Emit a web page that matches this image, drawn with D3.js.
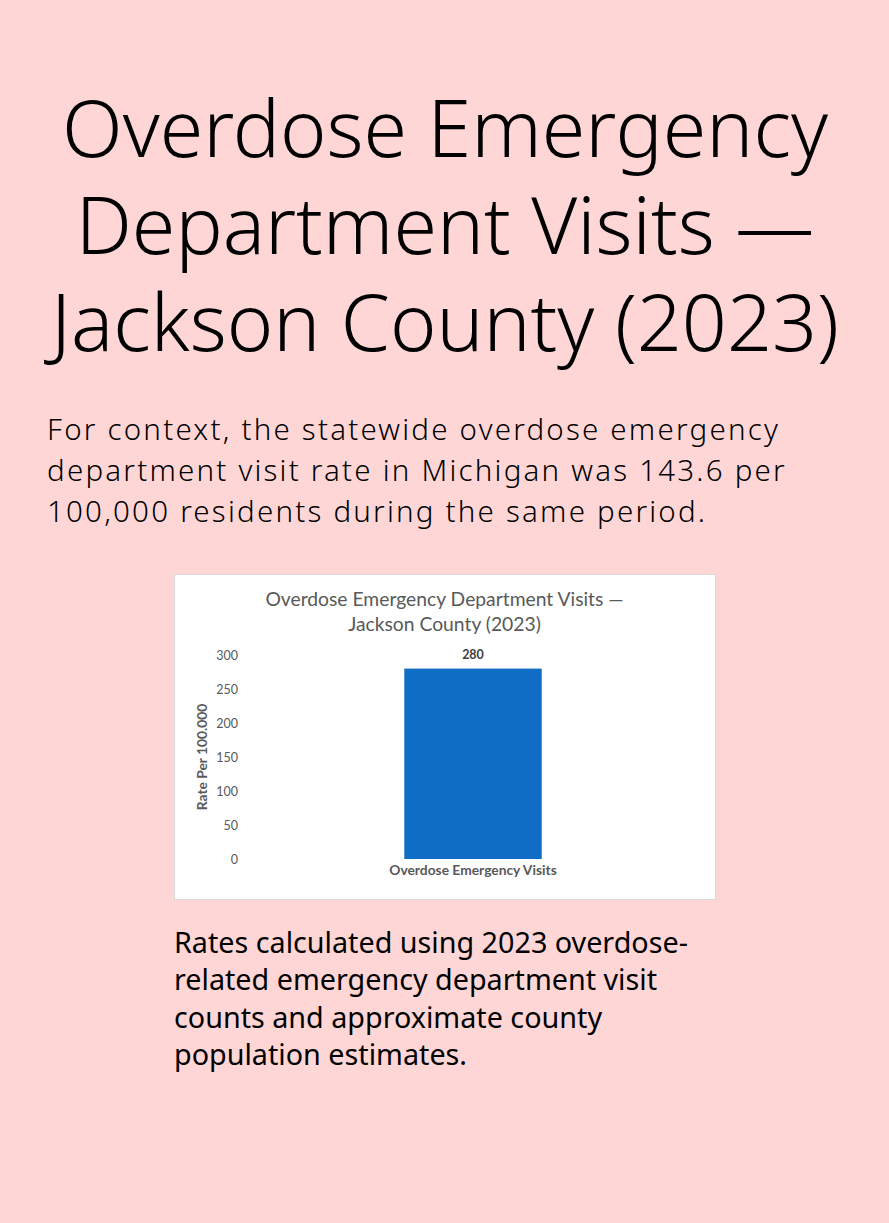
<!DOCTYPE html>
<html lang="en">
<head>
  <meta charset="UTF-8">
  <title>Overdose Emergency Department Visits — Jackson County (2023)</title>
  <script src="https://cdnjs.cloudflare.com/ajax/libs/d3/7.8.5/d3.min.js"></script>
  <style>
    body { margin: 0; background: #ffd6d6; }
    svg { display: block; }
    .big { font-family: "Noto Sans", sans-serif; font-weight: 300; fill: #000; }
    .note { font-family: "Noto Sans", sans-serif; font-weight: 400; fill: #000; }
    .chart text { font-family: Lato, "Open Sans", sans-serif; }
  </style>
</head>
<body>
  <svg width="889" height="1223"></svg>
  <script>
    // data
    var categories = ['Overdose Emergency Visits']
    var values = [280]
    var yTicks = [0, 50, 100, 150, 200, 250, 300]

    var titleLines = ['Overdose Emergency', 'Department Visits —', 'Jackson County (2023)']
    var introLines = [
      'For context, the statewide overdose emergency',
      'department visit rate in Michigan was 143.6 per',
      '100,000 residents during the same period.'
    ]
    var chartTitleLines = ['Overdose Emergency Department Visits —', 'Jackson County (2023)']
    var yLabel = 'Rate Per 100.000'
    var noteLines = [
      'Rates calculated using 2023 overdose-',
      'related emergency department visit',
      'counts and approximate county',
      'population estimates.'
    ]

    var svg = d3.select('svg')

    svg.append('rect').attr('width', 889).attr('height', 1223).attr('fill', '#ffd6d6')

    // scale a block's font so its first line hits a width
    function fitBlock(sel, targetWidth, startSize) {
      sel.style('font-size', startSize + 'px')
      var w = sel.filter((d, i) => i === 0).node().getComputedTextLength()
      var size = startSize * targetWidth / w
      sel.style('font-size', size + 'px')
      return size
    }

    // keep the size, make up the rest of the width with tracking
    function trackBlock(sel, targetWidth, size) {
      sel.style('font-size', size + 'px').style('letter-spacing', '0px')
      var first = sel.filter((d, i) => i === 0)
      var w = first.node().getComputedTextLength()
      sel.style('letter-spacing', ((targetWidth - w) / first.text().length) + 'px')
    }

    // big heading
    var title = svg.selectAll('.big')
      .data(titleLines).enter()
      .append('text')
      .attr('class', 'big')
      .attr('x', 445)
      .attr('y', (d, i) => 157 + i * 97)
      .attr('text-anchor', 'middle')
      .text(d => d)
    fitBlock(title, 766, 70)

    // intro paragraph
    var intro = svg.selectAll('.intro')
      .data(introLines).enter()
      .append('text')
      .attr('class', 'big intro')
      .attr('x', 47)
      .attr('y', (d, i) => 440 + i * 41)
      .text(d => d)
    trackBlock(intro, 733, 29.5)

    // chart card
    var box = { x: 174, y: 574, w: 541, h: 325 }
    var chart = svg.append('g').attr('class', 'chart')
      .attr('transform', `translate(${box.x},${box.y})`)

    chart.append('rect')
      .attr('x', 0.5).attr('y', 0.5)
      .attr('width', box.w).attr('height', box.h)
      .attr('fill', '#fff')
      .attr('stroke', '#d9d9d9')

    chart.selectAll('.ctitle')
      .data(chartTitleLines).enter()
      .append('text')
      .attr('class', 'ctitle')
      .attr('x', box.w / 2)
      .attr('y', (d, i) => 32 + i * 25)
      .attr('text-anchor', 'middle')
      .attr('fill', '#595959')
      .style('font-size', '19.3px')
      .text(d => d)

    var y = d3.scaleLinear().domain([0, 300]).range([285, 81])
    var x = d3.scaleBand().domain(categories).range([70, 528]).paddingInner(0.7).paddingOuter(0.347)

    var yAxis = chart.append('g')
      .attr('transform', 'translate(64,0)')
      .call(d3.axisLeft(y).tickValues(yTicks).tickSize(0).tickPadding(0))
    yAxis.select('.domain').remove()
    yAxis.selectAll('text')
      .attr('fill', '#595959')
      .style('font-size', '12.5px')

    chart.selectAll('.bar')
      .data(values).enter()
      .append('rect')
      .attr('class', 'bar')
      .attr('x', (d, i) => x(categories[i]))
      .attr('width', x.bandwidth())
      .attr('y', d => y(d))
      .attr('height', d => y(0) - y(d))
      .attr('fill', '#0f6dc6')

    chart.selectAll('.vlabel')
      .data(values).enter()
      .append('text')
      .attr('class', 'vlabel')
      .attr('x', (d, i) => x(categories[i]) + x.bandwidth() / 2)
      .attr('y', d => y(d) - 10)
      .attr('text-anchor', 'middle')
      .attr('fill', '#404040')
      .style('font-size', '12.5px')
      .style('font-weight', 700)
      .text(d => d)

    var xAxis = chart.append('g')
      .attr('transform', `translate(0,${y(0)})`)
      .call(d3.axisBottom(x).tickSize(0).tickPadding(6))
    xAxis.select('.domain').remove()
    xAxis.selectAll('text')
      .attr('fill', '#595959')
      .style('font-size', '13.8px')
      .style('font-weight', 700)

    chart.append('text')
      .attr('transform', `translate(33,${(y(0) + y(300)) / 2}) rotate(-90)`)
      .attr('text-anchor', 'middle')
      .attr('fill', '#595959')
      .style('font-size', '13.8px')
      .style('font-weight', 700)
      .text(yLabel)

    // footnote
    var note = svg.selectAll('.note')
      .data(noteLines).enter()
      .append('text')
      .attr('class', 'note')
      .attr('x', 174)
      .attr('y', (d, i) => 953 + i * 37.3)
      .text(d => d)
    fitBlock(note, 514, 26)
  </script>
</body>
</html>
